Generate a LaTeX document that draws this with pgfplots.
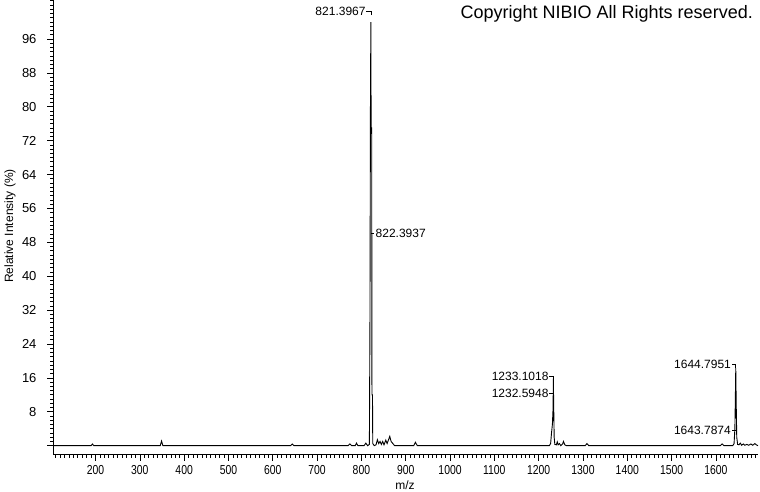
\documentclass[border=0pt]{standalone}
\usepackage{fontspec}
\setmainfont{Liberation Sans}
\usepackage{pgfplots}
\pgfplotsset{compat=1.18}
\begin{document}
\begin{tikzpicture}[x=1pt,y=1pt]
\useasboundingbox (0,0) rectangle (760,492);
\begin{axis}[
  at={(53pt,37pt)}, anchor=south west,
  scale only axis, width=705pt, height=455pt,
  xmin=104, xmax=1695, ymin=-2.2, ymax=105.2,
  axis lines=left, axis line style={-, line width=1pt},
  tick align=outside,
  major tick length=6pt, minor tick length=3pt,
  xtick={200,300,...,1600},
  minor xtick={110,120,...,1690},
  ytick={0,8,...,96},
  yticklabels={,8,16,24,32,40,48,56,64,72,80,88,96},
  minor ytick={1,2,...,105},
  tick style={black, line width=0.7pt},
  ticklabel style={font=\fontsize{13}{15}\selectfont},
  xticklabel style={xscale=0.8, yshift=-1pt},
  yticklabel style={xshift=-7pt},
  /pgf/number format/assume math mode=true,
  /pgf/number format/set thousands separator={},
  clip=false,
]
\addplot[black, line width=0.9pt] coordinates {
(104,0)(190,0)(193,0.4)(196,0)(346,0)(349,1.1)(352,0)(640,0)(644,0.4)(648,0)
(770,0)(774,0.4)(778,0)(786,0)(789,0.6)(792,0)(806,0)(810,0.6)(814,0)
(818,0.3)(819.3,30)(820.5,85)(821.4,100)(821.9,75)(822.4,75)(823.2,75)(823.8,12)(825,12)(825.6,0.5)
(829,0)(833,0.2)(836,1.4)(839,0.5)(842,1)(845,0.3)(848,1)(851,0.2)(855,1.3)(858,0.5)(864,2.2)(867,1)(871,0.5)(875,0)
(918,0)(922,0.8)(926,0)
(1224,0)(1227,0.5)(1229,3)(1231,5)(1232.6,9)(1233.1,15.8)(1234,9)(1235,2)(1236.5,0.3)
(1240,0.2)(1242,0.9)(1244,0.2)(1247,0.5)(1250,0)(1254,0.4)(1256,1)(1259,0.2)(1263,0)
(1305,0)(1309,0.5)(1313,0)(1610,0)(1614,0.4)(1618,0)
(1638,0)(1641,0.5)(1642.8,4)(1643.8,10.5)(1644.8,18.3)(1645.8,10)(1647,2)(1649,0.3)
(1652,0.2)(1655,0.6)(1658,0.1)(1662,0.4)(1665,0.1)(1670,0.3)(1674,0.1)(1679,0.4)(1683,0.1)(1688,0.5)(1691,0.2)(1695,0)
};
\begin{scope}[line width=0.7pt, font=\fontsize{12}{14}\selectfont]
\draw (axis cs:821.4,101.6) -- (axis cs:821.4,102.6) -- ++(-4.5pt,0pt) node[anchor=east, inner sep=0.5pt] {821.3967};
\draw (axis cs:822.4,50.2) -- ++(3pt,0pt) node[anchor=west, inner sep=1pt] {822.3937};
\draw (axis cs:1233.1,15.8) -- (axis cs:1233.1,16.3) -- ++(-4pt,0pt) node[anchor=east, inner sep=0.5pt] {1233.1018};
\draw (axis cs:1233.1,12.3) -- ++(-4pt,0pt) node[anchor=east, inner sep=0.5pt] {1232.5948};
\draw (axis cs:1644.8,18.3) -- (axis cs:1644.8,19.3) -- ++(-4pt,0pt) node[anchor=east, inner sep=0.5pt] {1644.7951};
\draw (axis cs:1644.5,3.7) -- ++(-4pt,0pt) node[anchor=east, inner sep=0.5pt] {1643.7874};
\end{scope}
\end{axis}
\node[anchor=east, inner sep=0pt, font=\fontsize{18}{20}\selectfont] at (753,478) {Copyright NIBIO All Rights reserved.};
\node[font=\fontsize{12}{14}\selectfont] at (405,7) {m/z};
\node[rotate=90, font=\fontsize{12}{14}\selectfont] at (10,266) {Relative Intensity (\%)};
\end{tikzpicture}
\end{document}
